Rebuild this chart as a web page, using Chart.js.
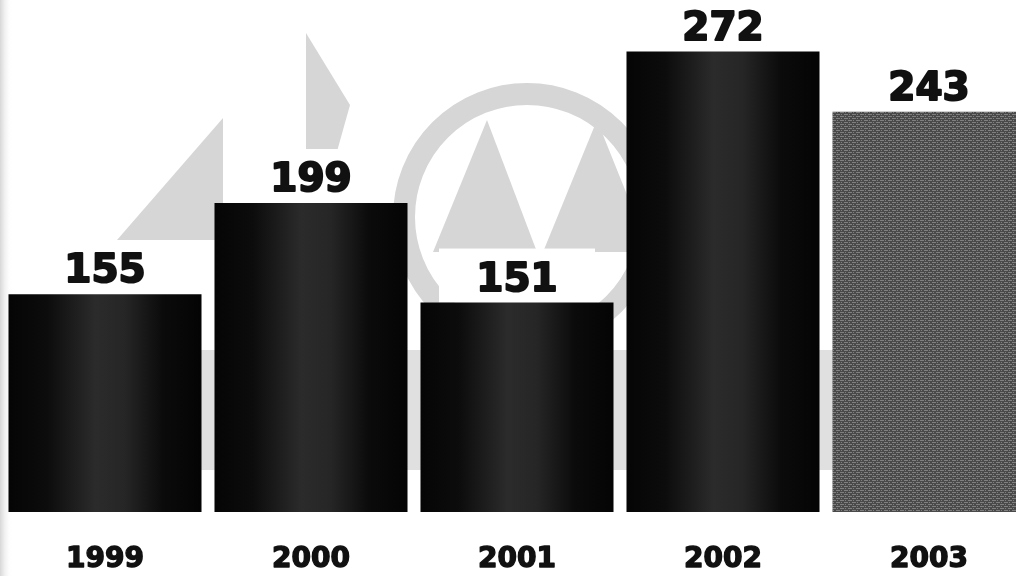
<!DOCTYPE html>
<html>
<head>
<meta charset="utf-8">
<script src="https://cdn.jsdelivr.net/npm/chart.js@4"></script>
<style>
  html, body { margin: 0; padding: 0; background: #ffffff; overflow: hidden; }
  #wrap { position: relative; width: 1032px; height: 576px; }
</style>
</head>
<body>
<div id="wrap"><canvas id="yearChart"></canvas></div>
<script>
// Chart data
const years = ['1999', '2000', '2001', '2002', '2003'];
const values = [155, 199, 151, 272, 243];

const barShare = 0.937;

// Small woven tile for the last (2003) bar
function weavePattern(ctx) {
    const tile = document.createElement('canvas');
    tile.width = 8;
    tile.height = 4;
    const t = tile.getContext('2d');
    t.fillStyle = '#4a4a4a';
    t.fillRect(0, 0, 8, 4);
    t.fillStyle = '#808080';
    t.fillRect(0, 0, 4, 1);
    t.fillRect(4, 2, 4, 1);
    t.fillRect(5, 0, 1, 1);
    t.fillRect(1, 2, 1, 1);
    return ctx.createPattern(tile, 'repeat');
}

let weave;

// Dark cylinder-like shading for the other bars
function barFill(context) {
    const chart = context.chart;
    const i = context.dataIndex;
    if (i === values.length - 1) {
        if (!weave) weave = weavePattern(chart.ctx);
        return weave;
    }
    const xs = chart.scales.x;
    if (!xs || i === undefined || !chart.chartArea) return '#111111';
    const cx = xs.getPixelForValue(i);
    const half = xs.width / years.length * barShare / 2;
    if (!isFinite(cx) || !isFinite(half)) return '#111111';
    const g = chart.ctx.createLinearGradient(cx - half, 0, cx + half, 0);
    g.addColorStop(0, '#050505');
    g.addColorStop(0.2, '#0c0c0c');
    g.addColorStop(0.45, '#2b2b2b');
    g.addColorStop(0.6, '#262626');
    g.addColorStop(0.8, '#0b0b0b');
    g.addColorStop(1, '#040404');
    return g;
}

// Faint logo watermark behind the bars
const watermark = {
    id: 'watermark',
    beforeDraw(chart) {
        const ctx = chart.ctx;
        ctx.save();
        const edge = ctx.createLinearGradient(0, 0, 12, 0);
        edge.addColorStop(0, '#d6d6d6');
        edge.addColorStop(1, 'rgba(255,255,255,0)');
        ctx.fillStyle = edge;
        ctx.fillRect(0, 0, 12, chart.height);

        ctx.fillStyle = '#d6d6d6';
        ctx.strokeStyle = '#d6d6d6';
        // left triangle
        ctx.beginPath();
        ctx.moveTo(223, 118);
        ctx.lineTo(223, 240);
        ctx.lineTo(117, 240);
        ctx.closePath();
        ctx.fill();
        // slim triangle
        ctx.beginPath();
        ctx.moveTo(306, 33);
        ctx.lineTo(350, 105);
        ctx.lineTo(322, 205);
        ctx.lineTo(306, 205);
        ctx.closePath();
        ctx.fill();
        // ring
        ctx.lineWidth = 22;
        ctx.beginPath();
        ctx.arc(527, 217, 123, 0, Math.PI * 2);
        ctx.stroke();
        // M
        ctx.beginPath();
        ctx.moveTo(487, 120);
        ctx.lineTo(537, 252);
        ctx.lineTo(433, 252);
        ctx.closePath();
        ctx.fill();
        ctx.beginPath();
        ctx.moveTo(597, 120);
        ctx.lineTo(650, 252);
        ctx.lineTo(543, 252);
        ctx.closePath();
        ctx.fill();
        // lettering band hidden behind the bars
        ctx.fillStyle = '#e0e0e0';
        ctx.fillRect(195, 350, 640, 120);
        ctx.restore();
    }
};

// Value labels with a white plate above each bar
const valueLabels = {
    id: 'valueLabels',
    beforeDatasetsDraw(chart) {
        const ctx = chart.ctx;
        const meta = chart.getDatasetMeta(0);
        ctx.save();
        ctx.fillStyle = '#ffffff';
        meta.data.forEach(bar => {
            ctx.fillRect(bar.x - 78, bar.y - 54, 156, 54);
        });
        ctx.restore();
    },
    afterDatasetsDraw(chart) {
        const ctx = chart.ctx;
        const meta = chart.getDatasetMeta(0);
        ctx.save();
        ctx.font = 'bold 39px "DejaVu Sans"';
        ctx.fillStyle = '#111111';
        ctx.strokeStyle = '#111111';
        ctx.lineWidth = 2;
        ctx.lineJoin = 'round';
        ctx.textAlign = 'center';
        ctx.textBaseline = 'alphabetic';
        meta.data.forEach((bar, i) => {
            ctx.strokeText(String(values[i]), bar.x, bar.y - 12);
            ctx.fillText(String(values[i]), bar.x, bar.y - 12);
        });
        ctx.restore();
    }
};

// Thicken the year labels a little, like the heavy face in the original
const heavyTicks = {
    id: 'heavyTicks',
    afterDraw(chart) {
        const xs = chart.scales.x;
        const ctx = chart.ctx;
        ctx.save();
        ctx.font = 'bold 28px "DejaVu Sans"';
        ctx.strokeStyle = '#111111';
        ctx.lineWidth = 1.4;
        ctx.lineJoin = 'round';
        ctx.textAlign = 'center';
        ctx.textBaseline = 'middle';
        years.forEach((y, i) => {
            ctx.strokeText(y, xs.getPixelForValue(i), xs.top + 31 + 16.8);
        });
        ctx.restore();
    }
};

new Chart(document.getElementById('yearChart'), {
    type: 'bar',
    data: {
        labels: years,
        datasets: [{
            data: values,
            backgroundColor: barFill,
            borderWidth: 0,
            barPercentage: 1,
            categoryPercentage: barShare
        }]
    },
    options: {
        responsive: true,
        maintainAspectRatio: false,
        animation: false,
        layout: { padding: { left: 2, right: 0, top: 35, bottom: 0 } },
        plugins: {
            legend: { display: false },
            tooltip: { enabled: false }
        },
        scales: {
            x: {
                grid: { display: false, drawTicks: false },
                border: { display: false },
                ticks: {
                    color: '#111111',
                    padding: 31,
                    font: { family: 'DejaVu Sans', size: 28, weight: 'bold' }
                },
                afterFit(scale) { scale.height = 64; }
            },
            y: {
                display: false,
                min: 50,
                max: 280
            }
        }
    },
    plugins: [watermark, valueLabels, heavyTicks]
});
</script>
</body>
</html>
